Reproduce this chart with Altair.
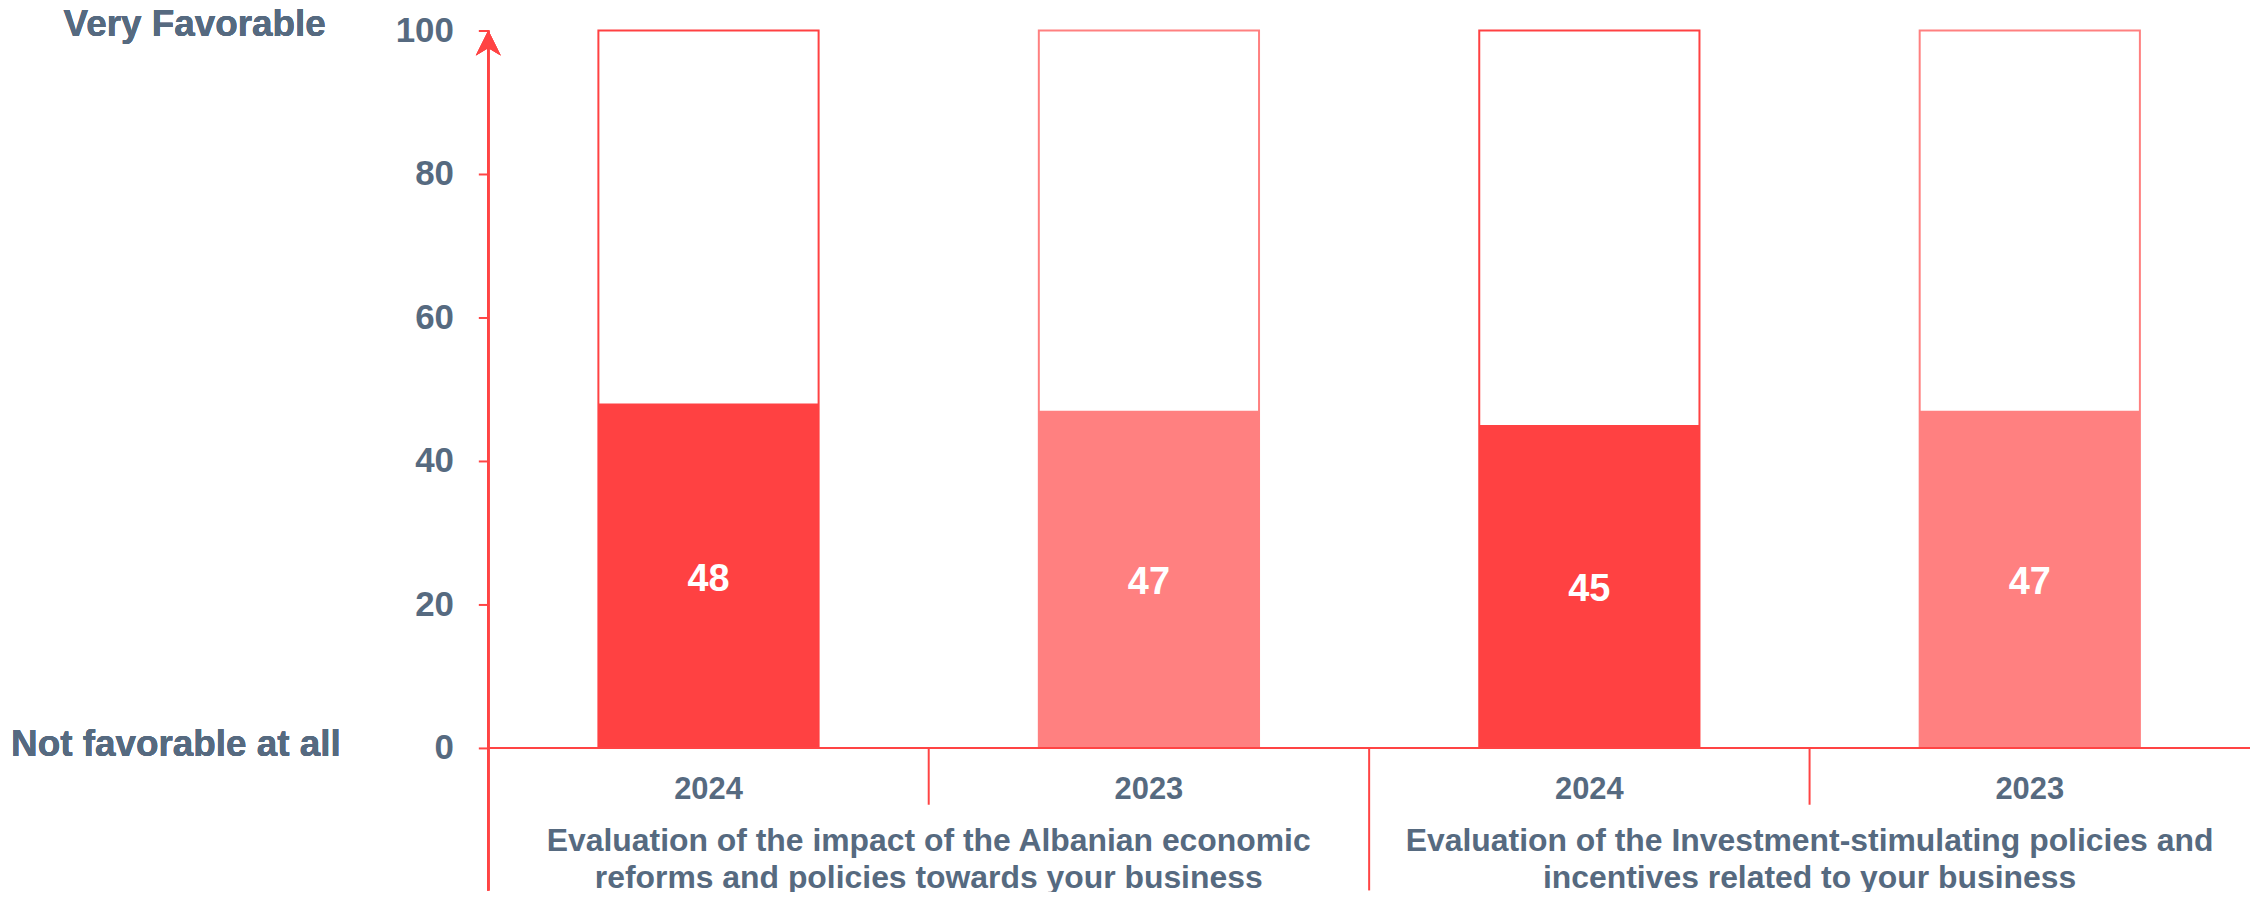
import altair as alt
import pandas as pd

# ---- data ----
group_lines = [
    ["Evaluation of the impact of the Albanian economic",
     "reforms and policies towards your business"],
    ["Evaluation of the Investment-stimulating policies and",
     "incentives related to your business"],
]
group_idx = [0, 0, 1, 1]
years = ["2024", "2023", "2024", "2023"]
values = [48, 47, 45, 47]
y_ticks = [0, 20, 40, 60, 80, 100]
y_top_label = "Very Favorable"
y_bottom_label = "Not favorable at all"

year_colors = {"2024": "#FF4142", "2023": "#FF8080"}
TEXT = "#566A80"
RED = "#FF4444"
FONT = "Liberation Sans"

keys = [f"{g}|{y}" for g, y in zip(group_idx, years)]
df = pd.DataFrame({
    "key": keys,
    "year": years,
    "value": values,
    "full": [100] * len(values),
    "half": [v / 2 for v in values],
})

# group label anchor: first key of each group (band end = group centre)
first_keys = [keys[group_idx.index(g)] for g in range(len(group_lines))]
groups_df = pd.DataFrame({"key": first_keys, "lines": group_lines})

# dividers between bands
short_div = pd.DataFrame({"key": [k for i, k in enumerate(keys)
                                  if i > 0 and group_idx[i] == group_idx[i - 1]]})
long_div = pd.DataFrame({"key": [k for i, k in enumerate(keys)
                                 if i > 0 and group_idx[i] != group_idx[i - 1]]})

W, H = 1768, 720

color_scale = alt.Scale(domain=list(year_colors.keys()), range=list(year_colors.values()))

x_enc = alt.X(
    "key:N", sort=keys,
    scale=alt.Scale(paddingInner=0, paddingOuter=0),
    axis=alt.Axis(
        title=None, labelExpr="split(datum.value, '|')[1]", ticks=False,
        domain=False, labelAngle=0, labelFontSize=31, labelFont=FONT,
        labelFontWeight="bold", labelColor=TEXT, labelPadding=27,
    ),
)
y_enc = alt.Y(
    "value:Q",
    scale=alt.Scale(domain=[0, 100], nice=False),
    axis=alt.Axis(
        title=None, values=y_ticks, grid=False, domain=False,
        tickColor=RED, tickSize=10, tickWidth=2,
        labelFontSize=35, labelFont=FONT, labelFontWeight="bold",
        labelColor=TEXT, labelPadding=25,
    ),
)

base = alt.Chart(df)

bg = base.mark_bar(width=alt.RelativeBandSize(0.5), fill="white", strokeWidth=2).encode(
    x=x_enc,
    y=alt.Y("full:Q"),
    stroke=alt.Color("year:N", scale=color_scale, legend=None),
)
fg = base.mark_bar(width=alt.RelativeBandSize(0.5)).encode(
    x=x_enc,
    y=y_enc,
    color=alt.Color("year:N", scale=color_scale, legend=None),
)
vals = base.mark_text(color="white", fontSize=38, fontWeight="bold", font=FONT,
                      baseline="middle", dy=4).encode(
    x=alt.X("key:N", sort=keys),
    y=alt.Y("half:Q"),
    text="value:Q",
)

x_line = alt.Chart(df).mark_rule(color=RED, strokeWidth=2).encode(
    x=alt.value(0), x2=alt.value(W), y=alt.datum(0)
)
y_line = alt.Chart(df).mark_rule(color=RED, strokeWidth=2.5).encode(
    x=alt.value(0), y=alt.value(0), y2=alt.value(H + 143)
)
arrow = alt.Chart(df).mark_point(
    shape="M0,0 L1,2 L0,1.4 L-1,2 Z", filled=True, size=625, color=RED, opacity=1
).encode(x=alt.value(0), y=alt.datum(100))

div_s = alt.Chart(short_div).mark_rule(color=RED, strokeWidth=2).encode(
    x=alt.X("key:N", sort=keys, bandPosition=0),
    y=alt.value(H), y2=alt.value(H + 57),
)
div_l = alt.Chart(long_div).mark_rule(color=RED, strokeWidth=2).encode(
    x=alt.X("key:N", sort=keys, bandPosition=0),
    y=alt.value(H), y2=alt.value(H + 143),
)

grp = alt.Chart(groups_df).mark_text(
    fontSize=32, fontWeight="bold", font=FONT, color=TEXT,
    baseline="middle", align="center", lineHeight=38,
).encode(
    x=alt.X("key:N", sort=keys, bandPosition=1),
    y=alt.value(H + 93),
    text="lines",
)

top_lbl = alt.Chart(df).mark_text(
    text=y_top_label, fontSize=37, fontWeight="bold", font=FONT, color=TEXT,
    align="right", baseline="middle", dy=-5,
).encode(x=alt.value(-163), y=alt.datum(100))
bot_lbl = alt.Chart(df).mark_text(
    text=y_bottom_label, fontSize=37, fontWeight="bold", font=FONT, color=TEXT,
    align="right", baseline="middle", dy=-3,
).encode(x=alt.value(-148), y=alt.datum(0))

chart = alt.layer(
    bg, fg, vals, x_line, div_s, div_l, y_line, arrow, grp, top_lbl, bot_lbl
).properties(
    width=W, height=H,
    autosize=alt.AutoSizeParams(type="none"),
    padding={"left": 482, "top": 21, "right": 0, "bottom": 143},
).configure_view(stroke=None)

chart.save("out.html", embed_options={"renderer": "svg", "actions": False})
